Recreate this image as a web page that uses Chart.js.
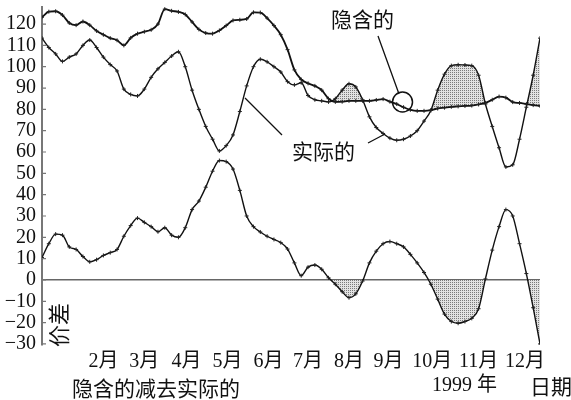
<!DOCTYPE html>
<html>
<head>
<meta charset="utf-8">
<script src="https://cdn.jsdelivr.net/npm/chart.js@4"></script>
<style>
  body { margin: 0; background: #fff; }
  #wrap { width: 571px; height: 400px; }
</style>
</head>
<body>
<div id="wrap"><canvas id="chart"></canvas></div>
<script>
// sample every 5 days, Jan 1 .. Dec 31
const days = Array.from({ length: 74 }, (_, i) => i * 5);

const implied = [
  123.2, 125.8, 126, 124.2, 120.5, 119.5, 121.2, 119.5, 116.8, 115,
  113.4, 112.4, 110, 113.5, 115.5, 116.4, 117.3, 120, 127, 126.2,
  125.7, 124.5, 121, 117.5, 115.8, 115.5, 117, 119.3, 121.7, 122,
  122.4, 125.5, 125.4, 122.8, 119.3, 115, 108, 98.5, 94, 92.2,
  91, 89, 85, 83.5, 83.6, 84, 84, 84, 84, 84.4,
  84.8, 83.6, 82.5, 81, 79.8, 79.3, 79.3, 79.6, 80.4, 80.8,
  81.2, 81.4, 81.6, 81.8, 82.3, 83, 84.5, 86, 85.5, 83.4,
  83, 82.5, 82, 81.6
];
const actual = [
  113.4, 109, 106, 102.5, 104.5, 106, 110, 112.5, 109, 104.5,
  101, 98, 89.5, 87, 86.3, 89.5, 95, 99, 102, 105,
  107, 100, 89, 80, 72, 66, 60.5, 63, 68, 79,
  91, 100, 103.5, 102.3, 100, 97.5, 93, 91.5, 92.5, 86.5,
  84.5, 84, 83.5, 85, 89, 92, 90.5, 84.5, 76.5, 71.5,
  68.7, 66.5, 65.5, 66, 67.5, 70, 74.5, 79.5, 89, 96.5,
  100.5, 100.9, 100.8, 100.5, 96, 82.5, 72, 62, 53, 54,
  66, 81, 96, 113.4
];
// implied minus actual
const spread = [
  10.5, 17, 21.5, 21, 15.5, 14.3, 11, 8.5, 9.5, 11.5,
  12.8, 14.3, 20.5, 25.5, 29, 27, 25, 22.6, 24.5, 21,
  20, 24.5, 33, 37, 43.5, 51, 56, 55.5, 52, 42,
  30, 25, 22.5, 20.5, 19, 17.5, 14.5, 8, 2, 6,
  7, 5, 1, -2, -5.5, -8.3, -6.5, -0.5, 8, 13.5,
  17, 18, 17, 15.5, 12, 8, 3.5, -2, -9, -16,
  -19.5, -20.3, -19.5, -18, -13.5, 0.5, 14, 25, 33, 30,
  17, 3, -13, -30
];

const monthLabels = ['2月', '3月', '4月', '5月', '6月', '7月', '8月', '9月', '10月', '11月', '12月'];
const monthTickDays = [45, 75, 106, 136, 166, 195, 225, 254, 286, 320, 354];
const yTicks = [-30, -20, -10, 0, 10, 20, 30, 40, 50, 60, 70, 80, 90, 100, 110, 120];

const SERIF = '"Liberation Serif", "Noto Sans CJK SC", serif';
const CJK = '"Noto Sans CJK SC", sans-serif';

// stipple fill
function makeDots() {
  const c = document.createElement('canvas');
  c.width = 2; c.height = 2;
  const g = c.getContext('2d');
  g.fillStyle = '#e2e2e2';
  g.fillRect(0, 0, 2, 2);
  g.fillStyle = '#7a7a7a';
  g.fillRect(0, 0, 1, 1);
  return g.createPattern(c, 'repeat');
}
const dots = makeDots();

const toPts = arr => arr.map((v, i) => ({ x: days[i], y: v }));

function lineSet(label, arr, fill, width) {
  return {
    label,
    data: toPts(arr),
    borderColor: '#111',
    borderWidth: width,
    pointStyle: 'cross',
    pointRadius: 2,
    pointBorderWidth: 1,
    pointBorderColor: '#222',
    cubicInterpolationMode: 'monotone',
    fill
  };
}

const notes = {
  id: 'notes',
  afterDraw(chart) {
    const ctx = chart.ctx;
    ctx.save();
    ctx.fillStyle = '#111';
    ctx.strokeStyle = '#111';
    ctx.textBaseline = 'middle';

    ctx.font = '21px ' + CJK;
    ctx.fillText('隐含的', 331, 19);
    ctx.fillText('实际的', 292, 151);

    ctx.lineWidth = 1.3;
    ctx.beginPath();
    ctx.moveTo(378, 36); ctx.lineTo(399, 94);
    ctx.moveTo(245, 98); ctx.lineTo(282, 135);
    ctx.moveTo(368, 143); ctx.lineTo(385, 134);
    ctx.stroke();
    ctx.lineWidth = 1.5;
    ctx.beginPath();
    ctx.arc(402.5, 102, 10, 0, Math.PI * 2);
    ctx.stroke();

    // inward ticks on the y axis
    const y = chart.scales.y;
    ctx.strokeStyle = '#777';
    ctx.lineWidth = 1.2;
    ctx.beginPath();
    yTicks.forEach(v => {
      const py = y.getPixelForValue(v);
      ctx.moveTo(y.right, py); ctx.lineTo(y.right + 4, py);
    });
    ctx.stroke();

    // vertical axis note
    ctx.save();
    ctx.translate(59, 325);
    ctx.rotate(-Math.PI / 2);
    ctx.font = '22px ' + CJK;
    ctx.textAlign = 'center';
    ctx.fillText('价差', 0, 0);
    ctx.restore();

    ctx.font = '21px ' + CJK;
    ctx.fillText('隐含的减去实际的', 72, 388);
    ctx.font = '20px ' + SERIF;
    ctx.fillText('1999 年', 432, 386);
    ctx.font = '21px ' + CJK;
    ctx.fillText('日期', 530, 386);
    ctx.restore();
  }
};

new Chart(document.getElementById('chart'), {
  type: 'line',
  data: {
    datasets: [
      lineSet('隐含的', implied, false, 1.8),
      lineSet('实际的', actual, { target: 0, above: dots, below: 'rgba(0,0,0,0)' }, 1.4),
      lineSet('价差', spread, { target: { value: 0 }, above: 'rgba(0,0,0,0)', below: dots }, 1.4)
    ]
  },
  options: {
    responsive: true,
    maintainAspectRatio: false,
    animation: false,
    layout: { padding: { top: 1, right: 31, left: 0, bottom: 0 } },
    plugins: { legend: { display: false }, tooltip: { enabled: false } },
    scales: {
      x: {
        type: 'linear',
        min: 0,
        max: 365,
        afterBuildTicks: s => { s.ticks = monthTickDays.map(v => ({ value: v })); },
        afterFit: s => { s.height = 55; },
        ticks: {
          autoSkip: false,
          maxRotation: 0,
          padding: -3,
          color: '#111',
          font: { family: SERIF, size: 20 },
          callback: (v, i) => monthLabels[i]
        },
        grid: { display: false },
        border: { display: false }
      },
      y: {
        min: -30.5,
        max: 128,
        afterBuildTicks: s => { s.ticks = yTicks.map(v => ({ value: v })); },
        afterFit: s => { s.width = 42; },
        ticks: {
          autoSkip: false,
          padding: 6,
          color: '#111',
          font: { family: SERIF, size: 20, lineHeight: 0.1 },
          callback: v => (v < 0 ? '\u2212' + Math.abs(v) : String(v))
        },
        grid: {
          drawTicks: false,
          lineWidth: 1.5,
          color: c => (c.tick && c.tick.value === 0 ? '#666' : 'rgba(0,0,0,0)')
        },
        border: { color: '#777', width: 2 }
      }
    }
  },
  plugins: [notes]
});
</script>
</body>
</html>
